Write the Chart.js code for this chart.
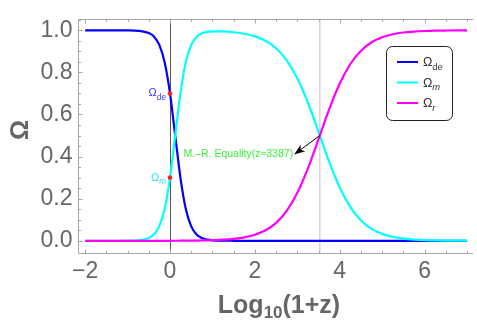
<!DOCTYPE html>
<html lang="en">

<head>
    <meta charset="UTF-8">
    <title>Omega x Log10(1+z)</title>
    <style>
        body {
            margin: 0;
            background: #ffffff;
        }
    </style>
</head>

<body>
    <canvas id="grafico" width="477" height="326"></canvas>

    <script src="https://cdn.jsdelivr.net/npm/chart.js"></script>
    <script>
        // valores
        const logZ = [-2, -1.75, -1.5, -1.25, -1, -0.75, -0.5, -0.375, -0.25, -0.125, 0, 0.125, 0.25, 0.375, 0.5, 0.625, 0.75,
            1, 1.25, 1.5, 1.75, 2, 2.25, 2.5, 2.75, 3, 3.25, 3.5, 3.75, 4, 4.25, 4.5, 4.75, 5, 5.25, 5.5, 5.75, 6, 6.25, 6.5, 6.75, 7];
        const omegaDe = [1, 1, 1, 0.9999, 0.9996, 0.9976, 0.9866, 0.9689, 0.9292, 0.8469, 0.7, 0.496, 0.2933, 0.149, 0.0687, 0.0302, 0.0129,
            0.0023, 0.0004, 0.0001, 0, 0, 0, 0, 0, 0, 0, 0, 0, 0, 0, 0, 0, 0, 0, 0, 0, 0, 0, 0, 0, 0];
        const omegaM = [0, 0, 0, 0.0001, 0.0004, 0.0024, 0.0134, 0.0311, 0.0708, 0.1531, 0.3, 0.504, 0.7067, 0.851, 0.9304, 0.9686, 0.9855,
            0.9948, 0.9944, 0.9907, 0.9837, 0.9713, 0.9501, 0.9146, 0.8576, 0.7721, 0.6558, 0.5172, 0.376, 0.2531,
            0.16, 0.0968, 0.0568, 0.0328, 0.0187, 0.0106, 0.006, 0.0034, 0.0019, 0.0011, 0.0006, 0.0003];
        const omegaR = [0, 0, 0, 0, 0, 0, 0, 0, 0, 0, 0.0001, 0.0002, 0.0004, 0.0006, 0.0009, 0.0012, 0.0016,
            0.0029, 0.0052, 0.0092, 0.0163, 0.0287, 0.0499, 0.0854, 0.1424, 0.2279, 0.3442, 0.4828, 0.624, 0.7469,
            0.84, 0.9032, 0.9432, 0.9672, 0.9813, 0.9894, 0.994, 0.9966, 0.9981, 0.9989, 0.9994, 0.9997];

        const xTicks = [-2, 0, 2, 4, 6];
        const yTicks = [0, 0.2, 0.4, 0.6, 0.8, 1];

        // pontos de hoje (z = 0) e igualdade materia-radiacao
        const pontosX = [0, 0];
        const pontosY = [0.7, 0.3];
        const igualdadeX = 3.53;
        const igualdadeY = 0.5;

        const cinza = '#666666';
        const corEixo = '#a6a6a6';
        const fonte = '"Liberation Sans", Arial, sans-serif';

        function juntar(xs, ys) {
            const lista = [];
            for (let i = 0; i < xs.length; i++) {
                lista.push({ x: xs[i], y: ys[i] });
            }
            return lista;
        }

        // desenha texto com indice (Omega_de etc), devolve largura
        function textoIndice(ctx, base, indice, x, y, tam, cor, alinhar, italico, negrito) {
            const peso = negrito ? 'bold ' : '';
            const tamIndice = tam * 0.75;
            ctx.font = peso + tam + 'px ' + fonte;
            const w1 = ctx.measureText(base).width;
            ctx.font = (italico ? 'italic ' : '') + peso + tamIndice + 'px ' + fonte;
            const w2 = ctx.measureText(indice).width;
            let x0 = x;
            if (alinhar == 'right') x0 = x - w1 - w2;
            if (alinhar == 'center') x0 = x - (w1 + w2) / 2;
            ctx.fillStyle = cor;
            ctx.textAlign = 'left';
            ctx.textBaseline = 'alphabetic';
            ctx.font = peso + tam + 'px ' + fonte;
            ctx.fillText(base, x0, y);
            ctx.font = (italico ? 'italic ' : '') + peso + tamIndice + 'px ' + fonte;
            ctx.fillText(indice, x0 + w1, y + tam * 0.28);
            return w1 + w2;
        }

        const desenhos = {
            id: 'desenhos',
            beforeDatasetsDraw(chart) {
                const ctx = chart.ctx;
                const area = chart.chartArea;
                const sx = chart.scales.x;
                const sy = chart.scales.y;
                ctx.save();

                // linhas verticais
                ctx.lineWidth = 1;
                ctx.strokeStyle = '#555555';
                let px = Math.round(sx.getPixelForValue(0)) + 0.5;
                ctx.beginPath();
                ctx.moveTo(px, area.top);
                ctx.lineTo(px, area.bottom);
                ctx.stroke();

                ctx.lineWidth = 1.5;
                ctx.strokeStyle = '#d6d6d6';
                px = sx.getPixelForValue(igualdadeX);
                ctx.beginPath();
                ctx.moveTo(px, area.top);
                ctx.lineTo(px, area.bottom);
                ctx.stroke();

                // moldura
                ctx.lineWidth = 1;
                ctx.strokeStyle = corEixo;
                const l = Math.round(area.left) + 0.5;
                const t = Math.round(area.top) + 0.5;
                const b = Math.round(area.bottom) + 0.5;
                ctx.beginPath();
                ctx.moveTo(l, t);
                ctx.lineTo(area.right, t);
                ctx.moveTo(l, t);
                ctx.lineTo(l, b);
                ctx.lineTo(area.right, b);
                ctx.stroke();

                // marcas para dentro
                ctx.beginPath();
                for (let v = -2; v <= 7.001; v += 0.5) {
                    const p = Math.round(sx.getPixelForValue(v)) + 0.5;
                    const tam = Math.abs(v / 2 - Math.round(v / 2)) < 0.001 ? 4 : 2.5;
                    ctx.moveTo(p, b);
                    ctx.lineTo(p, b - tam);
                    ctx.moveTo(p, t);
                    ctx.lineTo(p, t + tam);
                }
                for (let i = 0; i <= 21; i++) {
                    const v = i * 0.05;
                    const p = Math.round(sy.getPixelForValue(v)) + 0.5;
                    const tam = i % 4 == 0 ? 4 : 2.5;
                    ctx.moveTo(l, p);
                    ctx.lineTo(l + tam, p);
                }
                ctx.stroke();
                ctx.restore();
            },
            afterDatasetsDraw(chart) {
                const ctx = chart.ctx;
                const sx = chart.scales.x;
                const sy = chart.scales.y;
                ctx.save();

                // rotulos dos pontos
                const p0 = sx.getPixelForValue(pontosX[0]);
                textoIndice(ctx, 'Ω', 'de', p0 - 4, sy.getPixelForValue(pontosY[0]) + 3, 11, '#3434ff', 'right', false, false);
                textoIndice(ctx, 'Ω', 'm', p0 - 4, sy.getPixelForValue(pontosY[1]) + 3, 11, '#2ae8e8', 'right', true, false);

                // texto da igualdade
                ctx.font = '10.5px ' + fonte;
                ctx.fillStyle = '#3cf03c';
                ctx.textAlign = 'left';
                ctx.textBaseline = 'middle';
                const texto = 'M.–R. Equality(z≈3387)';
                const tx = 183.5;
                const ty = 154.5;
                ctx.fillText(texto, tx, ty);
                const fimTexto = tx + ctx.measureText(texto).width;

                // seta
                const ax = sx.getPixelForValue(igualdadeX);
                const ay = sy.getPixelForValue(igualdadeY);
                const bx = fimTexto + 1;
                const by = ty;
                const ang = Math.atan2(by - ay, bx - ax);
                ctx.strokeStyle = '#000000';
                ctx.fillStyle = '#000000';
                ctx.lineWidth = 1;
                ctx.beginPath();
                ctx.moveTo(ax, ay);
                ctx.lineTo(bx - 8 * Math.cos(ang), by - 8 * Math.sin(ang));
                ctx.stroke();
                ctx.beginPath();
                ctx.moveTo(bx, by);
                ctx.lineTo(bx - 11 * Math.cos(ang) + 4 * Math.sin(ang), by - 11 * Math.sin(ang) - 4 * Math.cos(ang));
                ctx.lineTo(bx - 8 * Math.cos(ang), by - 8 * Math.sin(ang));
                ctx.lineTo(bx - 11 * Math.cos(ang) - 4 * Math.sin(ang), by - 11 * Math.sin(ang) + 4 * Math.cos(ang));
                ctx.closePath();
                ctx.fill();

                // legenda
                const lx = 386.5, ly = 46.5, lw = 66, lh = 74;
                ctx.beginPath();
                ctx.roundRect(lx, ly, lw, lh, 6);
                ctx.fillStyle = '#ffffff';
                ctx.fill();
                ctx.strokeStyle = '#222222';
                ctx.lineWidth = 1;
                ctx.stroke();
                const itens = [['de', false], ['m', true], ['r', true]];
                for (let i = 0; i < 3; i++) {
                    const yy = 62 + i * 20.5;
                    ctx.strokeStyle = chart.data.datasets[i].borderColor;
                    ctx.lineWidth = 2;
                    ctx.beginPath();
                    ctx.moveTo(397, yy);
                    ctx.lineTo(418, yy);
                    ctx.stroke();
                    textoIndice(ctx, 'Ω', itens[i][0], 423, yy + 4, 12.5, '#333333', 'left', itens[i][1], false);
                }

                // titulos dos eixos
                ctx.fillStyle = cinza;
                ctx.font = 'bold 25px ' + fonte;
                const w1 = ctx.measureText('Log').width;
                ctx.font = 'bold 17px ' + fonte;
                const w2 = ctx.measureText('10').width;
                ctx.font = 'bold 25px ' + fonte;
                const w3 = ctx.measureText('(1+z)').width;
                let xx = 279 - (w1 + w2 + w3) / 2;
                ctx.textAlign = 'left';
                ctx.textBaseline = 'alphabetic';
                ctx.fillText('Log', xx, 313);
                ctx.font = 'bold 17px ' + fonte;
                ctx.fillText('10', xx + w1, 318);
                ctx.font = 'bold 25px ' + fonte;
                ctx.fillText('(1+z)', xx + w1 + w2, 313);

                ctx.translate(21, 130);
                ctx.rotate(-Math.PI / 2);
                ctx.textAlign = 'center';
                ctx.textBaseline = 'middle';
                ctx.fillText('Ω', 0, 0);
                ctx.restore();
            }
        };

        const ctx = document.getElementById('grafico');

        new Chart(ctx, {
            type: 'line',
            data: {
                datasets: [{
                    label: 'Ωde',
                    data: juntar(logZ, omegaDe),
                    borderColor: '#0000ff',
                    borderWidth: 2.2,
                    pointRadius: 0,
                    cubicInterpolationMode: 'monotone',
                    order: 3
                }, {
                    label: 'Ωm',
                    data: juntar(logZ, omegaM),
                    borderColor: '#00ffff',
                    borderWidth: 2.2,
                    pointRadius: 0,
                    cubicInterpolationMode: 'monotone',
                    order: 2
                }, {
                    label: 'Ωr',
                    data: juntar(logZ, omegaR),
                    borderColor: '#ff00ff',
                    borderWidth: 2.2,
                    pointRadius: 0,
                    cubicInterpolationMode: 'monotone',
                    order: 1
                }, {
                    type: 'scatter',
                    label: 'hoje',
                    data: juntar(pontosX, pontosY),
                    backgroundColor: '#ff2020',
                    borderWidth: 0,
                    pointRadius: 2.3,
                    order: 0
                }]
            },
            options: {
                responsive: false,
                animation: false,
                layout: {
                    padding: { top: 4.5, left: 0, right: 0, bottom: 0 }
                },
                plugins: {
                    legend: { display: false },
                    tooltip: { enabled: false }
                },
                scales: {
                    x: {
                        type: 'linear',
                        min: -2.18,
                        max: 7.14,
                        grid: { display: false, drawTicks: false },
                        border: { display: false },
                        afterFit: function (s) { s.height = 73.5 },
                        afterBuildTicks: function (s) { s.ticks = xTicks.map(v => ({ value: v })) },
                        ticks: {
                            color: cinza,
                            font: { size: 23, family: fonte },
                            padding: 5,
                            maxRotation: 0,
                            autoSkip: false,
                            callback: v => v < 0 ? '−' + Math.abs(v) : String(v)
                        }
                    },
                    y: {
                        type: 'linear',
                        min: -0.0556,
                        max: 1.0546,
                        grid: { display: false, drawTicks: false },
                        border: { display: false },
                        afterFit: function (s) { s.width = 77.5 },
                        afterBuildTicks: function (s) { s.ticks = yTicks.map(v => ({ value: v })) },
                        ticks: {
                            color: cinza,
                            font: { size: 23, family: fonte },
                            padding: 5,
                            autoSkip: false,
                            callback: v => v.toFixed(1)
                        }
                    }
                }
            },
            plugins: [desenhos]
        });
    </script>
</body>

</html>
